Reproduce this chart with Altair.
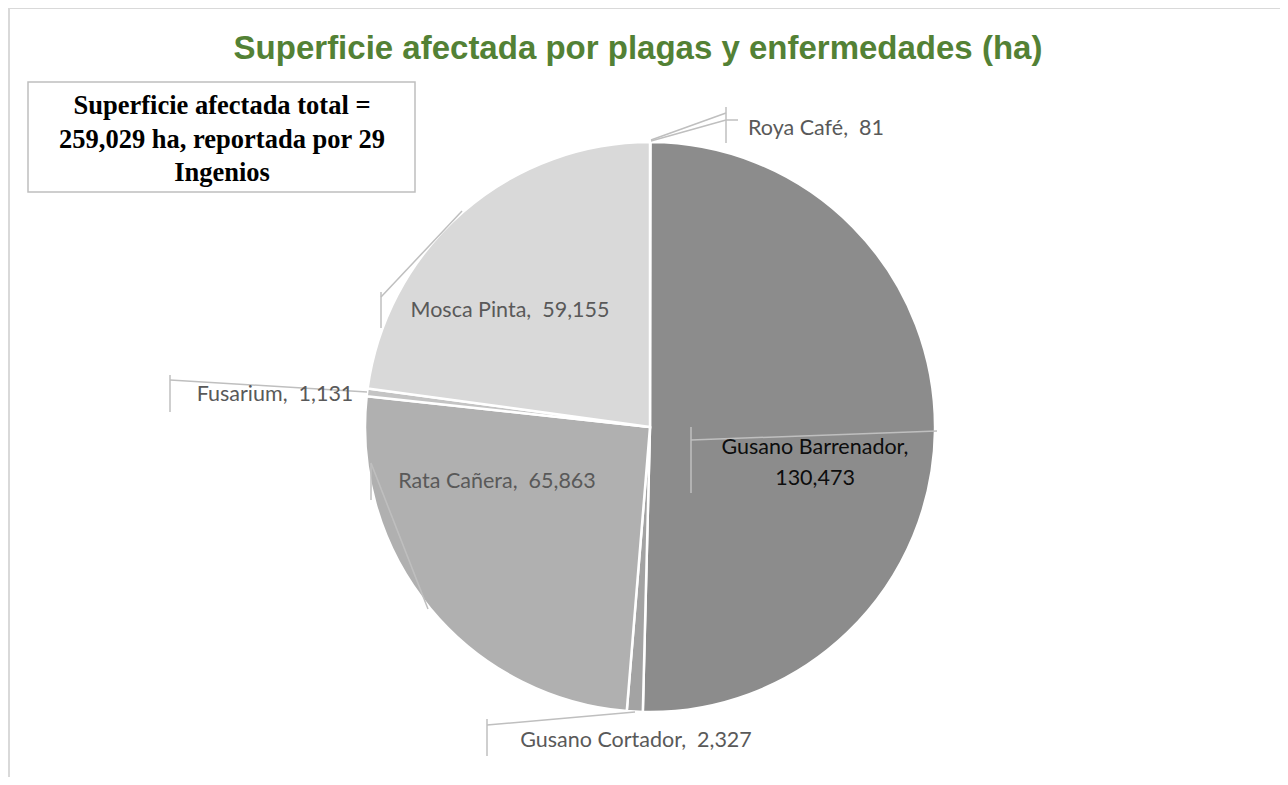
import altair as alt
import pandas as pd

# ---- data ----
categories = ["Roya Café", "Gusano Barrenador", "Gusano Cortador", "Rata Cañera", "Fusarium", "Mosca Pinta"]
values = [81, 130473, 2327, 65863, 1131, 59155]
colors = ["#9a9a9a", "#8c8c8c", "#a3a3a3", "#b0b0b0", "#c4c4c4", "#d9d9d9"]
NB = "\u00a0"
label_texts = ["Roya Café, " + NB + "81", "Gusano Barrenador,", "130,473",
               "Gusano Cortador, " + NB + "2,327", "Rata Cañera, " + NB + "65,863",
               "Fusarium, " + NB + "1,131", "Mosca Pinta, " + NB + "59,155"]
title_text = "Superficie afectada por plagas y enfermedades (ha)"
box_lines = ["Superficie afectada total =", "259,029 ha, reportada por 29", "Ingenios"]

W, H = 1272, 769
CX, CY, R = 642, 419, 285

pie_df = pd.DataFrame({"cat": categories, "val": values, "idx": list(range(len(categories)))})

pie = alt.Chart(pie_df).mark_arc(radius=R, stroke="white", strokeWidth=2.5).encode(
    theta=alt.Theta("val:Q", stack=True),
    order=alt.Order("idx:Q"),
    color=alt.Color("cat:N", scale=alt.Scale(domain=categories, range=colors), legend=None),
    x=alt.value(CX),
    y=alt.value(CY),
)

# ---- annotations (pixel positions in chart space) ----
lab_pos = [(808, 121), (807, 440), (807, 471), (628, 733), (489, 474), (267, 387), (502, 303)]
lab_col = ["#595959", "#0d0d0d", "#0d0d0d", "#595959", "#595959", "#595959", "#595959"]
lab_df = pd.DataFrame({"t": label_texts, "px": [p[0] for p in lab_pos],
                       "py": [p[1] for p in lab_pos], "c": lab_col})
labels = alt.Chart(lab_df).mark_text(font="Lato", fontSize=21.5, align="center", baseline="middle").encode(
    x=alt.X("px:Q", scale=None), y=alt.Y("py:Q", scale=None),
    text="t:N", color=alt.Color("c:N", scale=None),
)

# leader lines (screenshot coords minus 8px page margin)
seg = [
    (651, 140, 726, 113), (651, 141, 726, 120), (726, 107, 726, 143), (726, 120, 738, 120),
    (691, 427, 691, 493), (691, 440, 937, 431),
    (487, 719, 487, 756), (487, 725, 635, 712),
    (371, 463, 371, 500), (371, 463, 428, 609),
    (170, 375, 170, 412), (170, 380, 367, 392),
    (381, 292, 381, 328), (381, 297, 462, 211),
]
seg_df = pd.DataFrame([{"x": a - 8, "y": b - 8, "x2": c - 8, "y2": d - 8} for a, b, c, d in seg])
leaders = alt.Chart(seg_df).mark_rule(color="#bfbfbf", strokeWidth=1.5).encode(
    x=alt.X("x:Q", scale=None), y=alt.Y("y:Q", scale=None),
    x2="x2:Q", y2="y2:Q",
)

# frame
frame_df = pd.DataFrame([{"x": 1, "y": 0, "x2": W, "y2": 0}, {"x": 1, "y": 0, "x2": 1, "y2": H}])
frame = alt.Chart(frame_df).mark_rule(color="#d9d9d9", strokeWidth=2).encode(
    x=alt.X("x:Q", scale=None), y=alt.Y("y:Q", scale=None), x2="x2:Q", y2="y2:Q",
)

# title
title_df = pd.DataFrame({"t": [title_text], "px": [630], "py": [41]})
title = alt.Chart(title_df).mark_text(font="Liberation Sans", fontSize=33, fontWeight="bold",
                                      color="#538135", align="center", baseline="middle").encode(
    x=alt.X("px:Q", scale=None), y=alt.Y("py:Q", scale=None), text="t:N",
)

# text box
box_df = pd.DataFrame({"x": [20], "y": [74], "x2": [407], "y2": [184]})
box = alt.Chart(box_df).mark_rect(fill="white", stroke="#bfbfbf", strokeWidth=1.5).encode(
    x=alt.X("x:Q", scale=None), y=alt.Y("y:Q", scale=None), x2="x2:Q", y2="y2:Q",
)
box_txt_df = pd.DataFrame({"t": box_lines, "px": [214, 214, 214], "py": [98, 132, 165]})
box_txt = alt.Chart(box_txt_df).mark_text(font="Liberation Serif", fontSize=26.5, fontWeight="bold",
                                          color="#000000", align="center", baseline="middle").encode(
    x=alt.X("px:Q", scale=None), y=alt.Y("py:Q", scale=None), text="t:N",
)

chart = alt.layer(frame, pie, leaders, labels, title, box, box_txt).properties(
    width=W, height=H, padding=0, autosize=alt.AutoSizeParams(type="none"),
).configure_view(strokeWidth=0)

chart.save("out.html", embed_options={"renderer": "svg", "actions": False})
